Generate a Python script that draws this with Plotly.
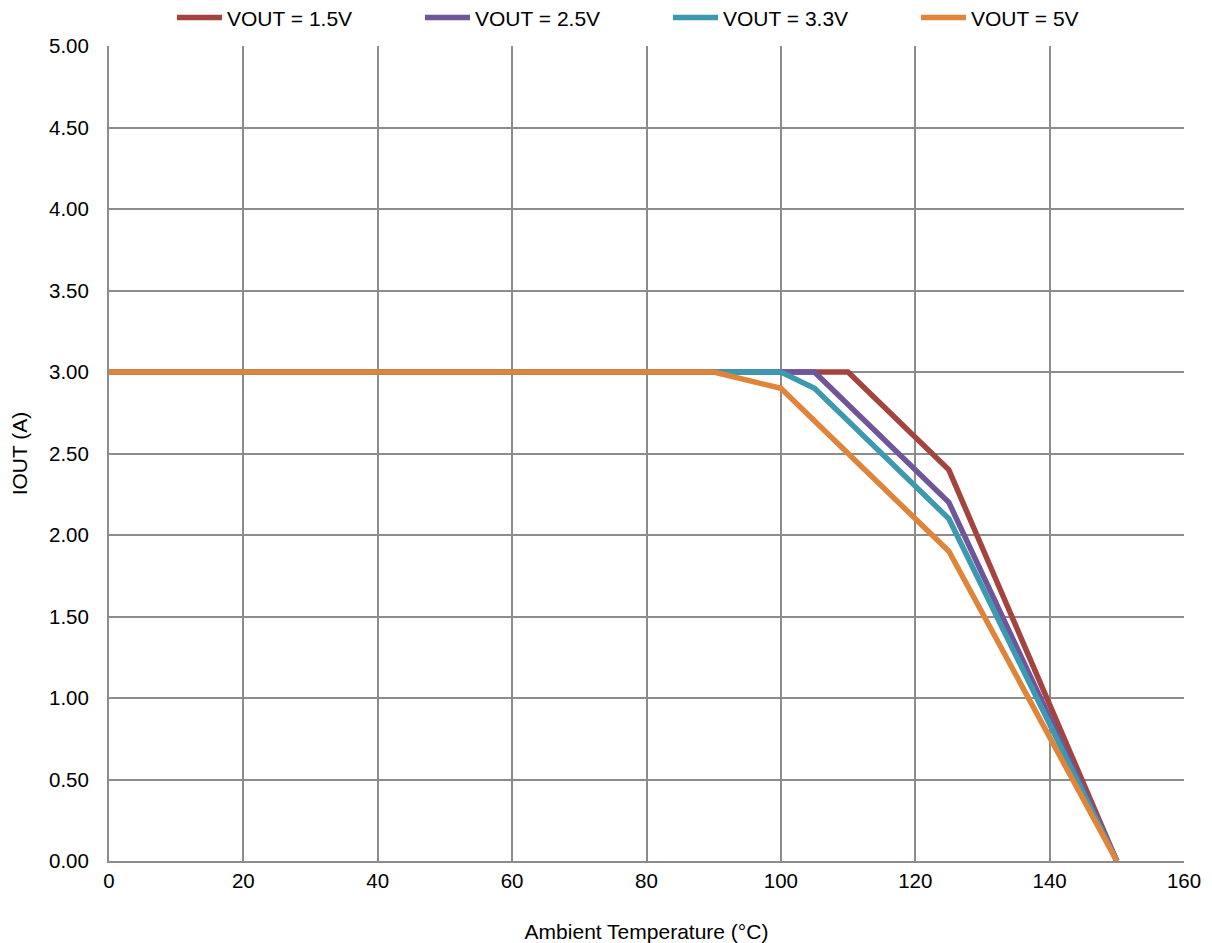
import plotly.graph_objects as go

# Derating curves: output current vs ambient temperature
temp_15 = [0, 110, 125, 150]
iout_15 = [3.0, 3.0, 2.4, 0.0]

temp_25 = [0, 105, 125, 150]
iout_25 = [3.0, 3.0, 2.2, 0.0]

temp_33 = [0, 100, 105, 125, 150]
iout_33 = [3.0, 3.0, 2.9, 2.1, 0.0]

temp_50 = [0, 90, 100, 125, 150]
iout_50 = [3.0, 3.0, 2.9, 1.9, 0.0]

series = [
    ("VOUT = 1.5V", temp_15, iout_15, "#A5433F"),
    ("VOUT = 2.5V", temp_25, iout_25, "#70559B"),
    ("VOUT = 3.3V", temp_33, iout_33, "#3C9AB0"),
    ("VOUT = 5V", temp_50, iout_50, "#E0843A"),
]

fig = go.Figure()
for name, x, y, color in series:
    fig.add_trace(go.Scatter(x=x, y=y, mode="lines", name=name,
                             line=dict(color=color, width=5.5)))

family = "Liberation Sans, Arial, sans-serif"
tick_font = dict(family=family, size=20.5, color="#000000")
title_font = dict(family=family, size=21, color="#000000")

fig.update_layout(
    width=1212, height=943,
    margin=dict(l=109, r=28, t=46, b=82, autoexpand=False),
    paper_bgcolor="white", plot_bgcolor="white",
    font=title_font,
    legend=dict(orientation="h", x=0.52, xanchor="center",
                yref="container", y=0.981, yanchor="middle",
                entrywidth=188, entrywidthmode="pixels", itemwidth=45,
                font=title_font, traceorder="normal"),
    xaxis=dict(range=[0, 160], dtick=20, showgrid=True, gridcolor="#8C8C8C", gridwidth=2,
               showline=True, linecolor="#8C8C8C", linewidth=2, zeroline=False,
               ticks="", tickfont=tick_font, automargin=False,
               title=dict(text="Ambient Temperature (°C)", font=title_font, standoff=34)),
    yaxis=dict(range=[0, 5], dtick=0.5, tickformat=".2f", showgrid=True,
               gridcolor="#8C8C8C", gridwidth=2, showline=True, linecolor="#8C8C8C",
               linewidth=2, zeroline=False, ticks="", tickfont=tick_font,
               ticklabelstandoff=14, automargin=False,
               title=dict(text="IOUT (A)", font=title_font, standoff=16)),
)

fig.write_html("out.html")
